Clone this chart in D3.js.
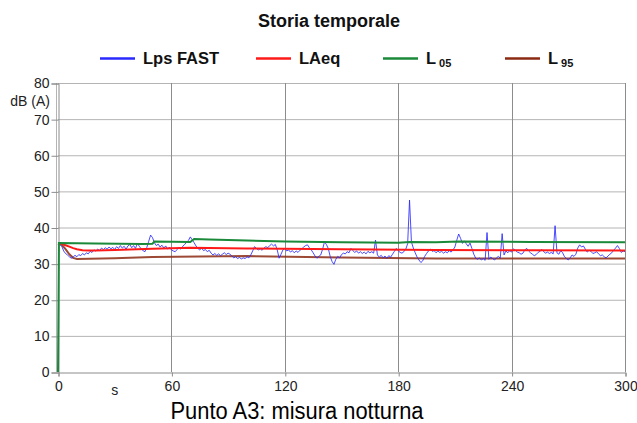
<!DOCTYPE html>
<html><head><meta charset="utf-8">
<script src="https://cdn.jsdelivr.net/npm/d3@7/dist/d3.min.js"></script>
<style>body{margin:0;background:#fff}svg{display:block}text{font-family:"Liberation Sans",Arial,sans-serif}</style>
</head><body><svg id="c" width="637" height="423"></svg>
<script>
// ---- data ----
const title = "Storia temporale";
const subtitle = "Punto A3: misura notturna";
const yTicks = [0,10,20,30,40,50,60,70,80];
const xTicks = [0,60,120,180,240,300];
// Lps FAST, one reading per second, t = 0..300 s
const lpsFast = [
35.5,35.3,34.8,33.5,32.8,32.4,31.9,31.5,31.8,32.3,
31.9,32.5,32.2,32.8,32.4,33.0,32.7,33.4,33.1,33.8,
33.5,34.0,33.6,34.3,33.9,34.4,34.0,34.6,34.1,34.5,
33.9,34.7,34.2,35.0,34.3,34.8,34.0,34.9,35.3,34.4,
35.0,34.2,35.6,34.8,34.1,33.6,33.3,34.5,36.2,37.9,
37.2,35.8,35.0,35.4,34.6,35.1,34.3,34.9,34.0,34.6,
33.8,33.5,33.3,33.9,34.5,34.0,34.8,35.3,35.9,36.4,
37.4,36.6,35.8,34.9,34.2,33.8,34.3,33.6,33.9,33.3,
33.7,32.9,32.4,32.8,32.3,32.7,32.2,32.6,33.0,32.5,
32.9,32.6,32.1,31.6,31.9,31.4,31.7,31.3,31.6,31.4,
31.9,31.6,32.4,33.5,34.7,34.2,33.8,34.1,33.7,34.3,
34.7,34.4,35.0,35.4,34.9,35.3,33.8,31.5,32.6,33.8,
34.2,33.5,33.8,33.2,33.6,33.0,33.5,33.1,33.7,34.1,
34.6,35.0,35.2,34.4,33.8,33.0,32.1,31.5,32.0,32.4,
34.0,36.0,35.3,34.2,32.0,30.6,29.8,31.2,32.0,31.6,
32.5,32.9,32.7,33.3,33.0,34.2,33.6,33.1,33.5,32.9,
33.3,32.8,33.2,32.7,33.4,33.0,33.3,32.9,36.5,32.4,
31.8,32.3,31.6,32.1,31.5,32.2,31.8,32.6,33.4,34.2,
33.6,33.1,32.9,33.3,34.0,35.5,47.6,36.0,34.3,33.0,
31.8,31.0,30.3,30.8,32.0,32.8,33.5,34.0,33.4,33.6,
33.0,33.5,33.1,33.4,32.9,33.3,33.0,33.6,33.2,33.8,
34.6,36.5,38.2,37.0,35.6,36.3,35.5,34.8,35.7,34.2,
32.6,31.5,31.2,31.6,31.0,31.4,30.9,38.6,31.2,31.8,
31.4,31.0,31.6,32.0,31.5,38.3,32.4,33.5,33.0,33.6,
33.2,34.1,33.7,33.2,33.0,32.6,32.9,33.8,34.2,33.5,
33.0,32.6,32.2,32.5,33.1,33.4,33.9,33.3,32.9,33.2,
32.8,33.1,32.7,40.5,33.0,32.6,33.6,33.0,31.9,31.4,
31.0,31.6,32.4,32.0,32.6,34.3,35.2,34.6,34.9,34.0,
33.2,33.7,33.4,32.8,33.0,33.3,32.7,32.2,32.4,31.9,
31.6,32.1,32.6,33.0,33.7,34.3,35.0,34.2,33.1,33.5,
33.3];
// LAeq (running), breakpoints
const laeqT = [0,2,4,6,8,10,13,16,20,30,50,70,100,150,200,250,300];
const laeqV = [35.5,35.4,35.1,34.7,34.3,34.0,33.7,33.6,33.6,33.8,34.1,34.4,34.2,34.0,33.8,33.7,33.6];
// L05
const l05T = [0,0.5,20,45,50,51,70,72,80,100,120,150,180,186,200,212,250,300];
const l05V = [0,35.7,35.6,35.4,35.5,36.1,36.0,36.8,36.7,36.4,36.1,35.9,35.8,36.0,35.9,36.1,36.0,35.9];
// L95
const l95T = [0,2,4,6,8,10,30,50,100,150,200,250,300];
const l95V = [35.5,35.2,34.0,32.6,31.6,31.3,31.5,31.8,32.1,31.7,31.4,31.4,31.4];
const series = [
  {name:"Lps FAST", sub:"", color:"#2a2aff"},
  {name:"LAeq", sub:"", color:"#ff1a1a"},
  {name:"L", sub:"05", color:"#1a8a3a"},
  {name:"L", sub:"95", color:"#8b2a12"}
];

// ---- chart ----
const svg = d3.select("#c");
const x = d3.scaleLinear().domain([0,300]).range([58,625]);
const y = d3.scaleLinear().domain([0,80]).range([372,83]);

// horizontal grid
svg.append("g").selectAll("line").data(yTicks.filter(d=>d>0)).join("line")
  .attr("x1",58).attr("x2",625).attr("y1",d=>y(d)+0.5).attr("y2",d=>y(d)+0.5)
  .attr("stroke","#b4b4b4").attr("stroke-width",1);
// vertical grid
svg.append("g").selectAll("line").data(xTicks.filter(d=>d>0)).join("line")
  .attr("x1",d=>Math.round(x(d))+0.5).attr("x2",d=>Math.round(x(d))+0.5).attr("y1",83).attr("y2",372)
  .attr("stroke","#8c8c8c").attr("stroke-width",1);
// double line at left
svg.append("line").attr("x1",56.5).attr("x2",56.5).attr("y1",83).attr("y2",372).attr("stroke","#b4b4b4");

// axes
const yAxis = d3.axisLeft(y).tickValues(yTicks).tickSize(7).tickPadding(2);
const gy = svg.append("g").attr("transform","translate(58.5,0.5)").call(yAxis);
gy.select(".domain").attr("stroke","#8c8c8c");
gy.selectAll(".tick line").attr("stroke","#8c8c8c");
gy.selectAll("text").attr("font-size",14).attr("fill","#222").attr("font-family","'Liberation Sans',Arial,sans-serif");

const xAxis = d3.axisBottom(x).tickValues(xTicks).tickSize(4).tickPadding(5);
const gx = svg.append("g").attr("transform","translate(0.5,372.5)").call(xAxis);
gx.select(".domain").attr("stroke","#8c8c8c");
gx.selectAll(".tick line").attr("stroke","#8c8c8c");
gx.selectAll("text").attr("font-size",14).attr("fill","#222").attr("font-family","'Liberation Sans',Arial,sans-serif");

svg.append("text").attr("x",50).attr("y",106).attr("text-anchor","end").attr("font-size",14).attr("fill","#222").text("dB (A)");
svg.append("text").attr("x",x(30)).attr("y",395).attr("text-anchor","middle").attr("font-size",14).attr("fill","#222").text("s");

// lines
const line = d3.line().x(d=>x(d[0])).y(d=>y(d[1]));
const zip = (t,v)=>t.map((d,i)=>[d,v[i]]);
svg.append("path").datum(zip(l95T,l95V)).attr("d",line).attr("fill","none").attr("stroke",series[3].color).attr("stroke-width",2).attr("stroke-opacity",0.85);
svg.append("path").datum(lpsFast.map((v,i)=>[i,v])).attr("d",line).attr("fill","none").attr("stroke",series[0].color).attr("stroke-width",1).attr("stroke-opacity",0.85);
svg.append("path").datum(zip(laeqT,laeqV)).attr("d",line).attr("fill","none").attr("stroke",series[1].color).attr("stroke-width",2);
svg.append("path").datum(zip(l05T,l05V)).attr("d",line).attr("fill","none").attr("stroke",series[2].color).attr("stroke-width",2);

// title
svg.append("text").attr("x",329).attr("y",27).attr("text-anchor","middle").attr("font-size",18).attr("font-weight","bold").attr("fill","#111").text(title);

// legend
const legX = [100,256,383,505];
series.forEach((s,i)=>{
  const g = svg.append("g");
  g.append("line").attr("x1",legX[i]).attr("x2",legX[i]+35).attr("y1",58.5).attr("y2",58.5).attr("stroke",s.color).attr("stroke-width",2.5);
  const t = g.append("text").attr("x",legX[i]+43).attr("y",64).attr("font-size",16.5).attr("font-weight","bold").attr("fill","#111").text(s.name);
  if (s.sub) t.append("tspan").attr("font-size",11).attr("dx",3).attr("dy",3).text(s.sub);
});

// bottom caption
svg.append("text").attr("x",297).attr("y",419).attr("text-anchor","middle").attr("font-size",23)
  .attr("textLength",253).attr("lengthAdjust","spacingAndGlyphs").attr("fill","#000").text(subtitle);
</script></body></html>
